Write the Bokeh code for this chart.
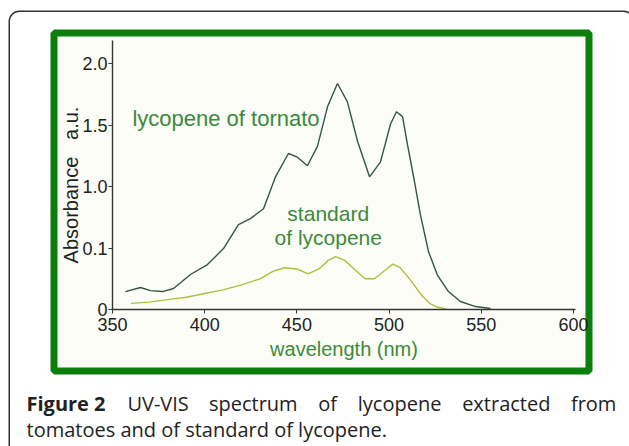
from bokeh.plotting import figure
from bokeh.models import FixedTicker, BoxAnnotation, Label, Range1d
from bokeh.embed import file_html
from bokeh.resources import INLINE

# ---------------- data (plotted positions on the chart's own axis) ----------------
tomato_wl = [357.0, 365.2, 370.6, 377.1, 383.1, 392.3, 401.5, 410.2, 418.3, 424.8,
             431.9, 438.4, 445.4, 450.3, 455.7, 461.2, 466.6, 472.0, 477.4, 482.9,
             489.4, 495.3, 500.8, 504.0, 507.3, 510.0, 513.8, 517.0, 521.4, 526.2,
             532.2, 538.7, 546.9, 555.0]
tomato_abs = [0.146, 0.179, 0.154, 0.146, 0.171, 0.285, 0.366, 0.496, 0.691, 0.74,
              0.82, 1.08, 1.27, 1.24, 1.17, 1.33, 1.65, 1.84, 1.69, 1.37,
              1.08, 1.20, 1.51, 1.61, 1.57, 1.34, 1.04, 0.77, 0.47, 0.28,
              0.146, 0.065, 0.024, 0.008]

std_wl = [360, 370, 380, 390, 400, 410, 420, 430, 437, 443, 450, 456, 462, 467,
          471, 476, 481, 487, 492, 497, 502, 506, 510, 514, 518, 522, 526, 531]
std_abs = [0.05, 0.06, 0.08, 0.10, 0.13, 0.16, 0.20, 0.25, 0.31, 0.34, 0.33, 0.29,
           0.33, 0.40, 0.43, 0.40, 0.33, 0.25, 0.25, 0.31, 0.37, 0.34, 0.27, 0.19,
           0.11, 0.05, 0.02, 0.005]

x_ticks = [350, 400, 450, 500, 550, 600]
y_tick_pos = [0, 0.5, 1, 1.5, 2]
y_tick_labels = ["0", "0.1", "1.0", "1.5", "2.0"]

caption_line1 = ["Figure 2", "UV-VIS", "spectrum", "of", "lycopene", "extracted", "from"]
caption_line2 = "tomatoes and of standard of lycopene."

# ---------------- figure ----------------
W, H = 629, 446
CHART_FONT = "Liberation Sans"
GREEN_TXT = "#3b8a3b"
CREAM = "#fcfdf7"
FRAME_GREEN = "#0b7f0b"

# axis extents and where they sit on the page
X0, X1 = 350, 601.1          # x axis bounds
Y0, Y1 = 0.0, 2.19           # y axis bounds
AX_L, AX_R = 112, 575        # page px of x bounds
AX_B, AX_T = 309, 40         # page px of y bounds
kx = (AX_R - AX_L) / (X1 - X0)
ky = (AX_B - AX_T) / (Y1 - Y0)
x_range = Range1d(X0 - AX_L / kx, X0 + (W - AX_L) / kx)
y_range = Range1d(Y0 - (H - AX_B) / ky, Y0 + AX_B / ky)

p = figure(width=W, height=H, output_backend="svg", toolbar_location=None,
           x_range=x_range, y_range=y_range,
           min_border_left=0, min_border_right=0, min_border_top=0, min_border_bottom=0)
p.outline_line_color = None
p.grid.visible = False
p.border_fill_color = "white"
p.background_fill_color = "white"


def canvas_box(l, r, t, b, **kw):
    return BoxAnnotation(left=l, right=r, top=t, bottom=b,
                         left_units="canvas", right_units="canvas",
                         top_units="canvas", bottom_units="canvas",
                         level="underlay", **kw)


# outer rounded box
p.add_layout(canvas_box(8.75, 633, 10.75, 480, fill_color=None, fill_alpha=0,
                        line_color="#333333", line_alpha=1.0, line_width=1.5,
                        border_radius=10))
# green frame with cream inside
p.add_layout(canvas_box(53.5, 588.5, 32.5, 370.5, fill_color=CREAM, fill_alpha=1.0,
                        line_color=FRAME_GREEN, line_alpha=1.0, line_width=7))

# curves
p.line(tomato_wl, tomato_abs, line_color="#34573c", line_width=1.4)
p.line(std_wl, std_abs, line_color="#a8c23c", line_width=1.4)

# axes, drawn at fixed locations inside the canvas
for ax in (p.xaxis[0], p.yaxis[0]):
    ax.axis_line_color = "#333333"
    ax.axis_line_width = 1.4
    ax.major_tick_line_color = "#333333"
    ax.major_tick_in = 0
    ax.major_tick_out = 4
    ax.minor_tick_line_color = None
    ax.major_label_text_font = CHART_FONT
    ax.major_label_text_font_size = "18px"
    ax.major_label_text_color = "#222222"
    ax.axis_label_text_font = CHART_FONT
    ax.axis_label_text_font_style = "normal"
    ax.axis_label_text_font_size = "20px"

p.xaxis.ticker = FixedTicker(ticks=x_ticks)
p.xaxis.bounds = (X0, X1)
p.xaxis.fixed_location = Y0
p.xaxis.axis_label = "wavelength (nm)"
p.xaxis.axis_label_text_color = GREEN_TXT
p.xaxis.major_label_standoff = 4
p.xaxis.axis_label_standoff = 4

p.yaxis.ticker = FixedTicker(ticks=y_tick_pos)
p.yaxis.bounds = (Y0, Y1)
p.yaxis.fixed_location = X0
p.yaxis.major_label_overrides = {k: v for k, v in zip(y_tick_pos, y_tick_labels)}
p.yaxis.axis_label = "Absorbance\u00a0\u00a0\u00a0a.u.\u2003"
p.yaxis.axis_label_text_color = "#222222"
p.yaxis.major_label_standoff = 1
p.yaxis.axis_label_standoff = -3

# curve labels
p.add_layout(Label(x=360.8, y=1.555, text="lycopene of tornato", text_font=CHART_FONT,
                   text_font_size="22px", text_color=GREEN_TXT, text_baseline="middle"))
p.add_layout(Label(x=467, y=0.78, text="standard", text_font=CHART_FONT,
                   text_font_size="21px", text_color=GREEN_TXT, text_baseline="middle",
                   text_align="center"))
p.add_layout(Label(x=467, y=0.59, text="of lycopene", text_font=CHART_FONT,
                   text_font_size="21px", text_color=GREEN_TXT, text_baseline="middle",
                   text_align="center"))

# caption: first line justified between the two margins
CAP_SIZE = 20
CAP_L, CAP_R = 26, 616
ADV = {" ": .26, "a": .556, "b": .613, "c": .476, "d": .613, "e": .561, "f": .336,
       "g": .548, "h": .614, "i": .253, "l": .253, "m": .930, "n": .614, "o": .604,
       "p": .613, "r": .408, "s": .477, "t": .353, "u": .614, "v": .501, "x": .524,
       "y": .502, "-": .322, "U": .733, "V": .579, "I": .279, "S": .551, "F": .532,
       "2": .571, ".": .267}


def est_width(word, bold=False):
    w = sum(ADV.get(ch, .56) for ch in word) * CAP_SIZE
    return w * (1.07 if bold else 1.0)


widths = [est_width(w, w.startswith("Figure")) for w in caption_line1]
gap = (CAP_R - CAP_L - sum(widths)) / (len(caption_line1) - 1)
x = CAP_L
for word, wd in zip(caption_line1, widths):
    p.add_layout(Label(x=x, y=403, x_units="canvas", y_units="canvas", text=word,
                       text_font="Open Sans", text_font_size=f"{CAP_SIZE}px",
                       text_font_style="bold" if word.startswith("Figure") else "normal",
                       text_color="#222222", text_baseline="alphabetic"))
    x += wd + gap
p.add_layout(Label(x=CAP_L, y=429, x_units="canvas", y_units="canvas", text=caption_line2,
                   text_font="Open Sans", text_font_size=f"{CAP_SIZE}px", text_color="#222222",
                   text_baseline="alphabetic"))

open("out.html", "w").write(file_html(p, INLINE))
